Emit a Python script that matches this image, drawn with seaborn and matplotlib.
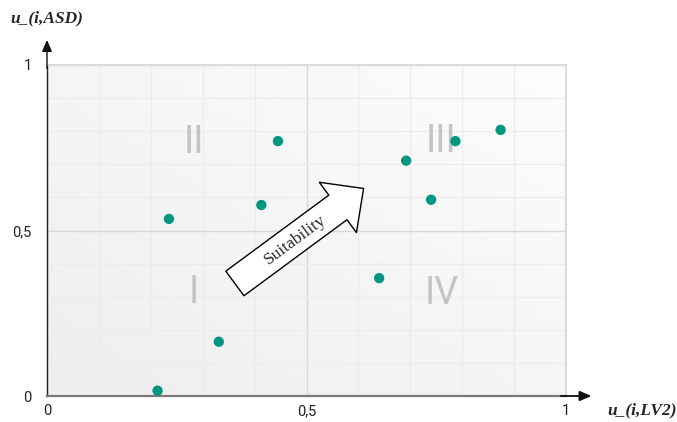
import numpy as np
import matplotlib
matplotlib.use('Agg')
import matplotlib.pyplot as plt
from matplotlib.colors import LinearSegmentedColormap
import seaborn as sns

# membership values
u_lv2 = [0.445, 0.413, 0.235, 0.331, 0.213, 0.692, 0.787, 0.874, 0.740, 0.640]
u_asd = [0.770, 0.577, 0.535, 0.164, 0.016, 0.711, 0.770, 0.804, 0.593, 0.356]

quadrants = ['II', 'III', 'I', 'IV']
quad_x = [0.283, 0.760, 0.283, 0.760]
quad_y = [0.767, 0.770, 0.314, 0.310]

x_ticks = [0, 0.5, 1]
x_ticklabels = ['0', '0,5', '1']
y_ticks = [0, 0.5, 1]
y_ticklabels = ['0', '0,5', '1']

sns.set_style('white')
plt.rcParams['font.family'] = ['Roboto', 'DejaVu Sans']

fig = plt.figure(figsize=(6.77, 4.22), dpi=100)
ax = fig.add_axes([47 / 677, 26 / 422, 519 / 677, 331 / 422])
ax.set_xlim(0, 1)
ax.set_ylim(0, 1)

# soft diagonal background gradient
gx, gy = np.meshgrid(np.linspace(0, 1, 200), np.linspace(0, 1, 200))
grad = (gx + gy) / 2
cmap = LinearSegmentedColormap.from_list('bg', ['#eeeeee', '#fdfdfd'])
ax.imshow(grad, extent=[0, 1, 0, 1], origin='lower', cmap=cmap,
          aspect='auto', zorder=0)

ax.set_xticks(x_ticks)
ax.set_xticklabels(x_ticklabels)
ax.set_yticks(y_ticks)
ax.set_yticklabels(y_ticklabels)
ax.set_xticks(np.arange(0, 1.01, 0.1), minor=True)
ax.set_yticks(np.arange(0, 1.01, 0.1), minor=True)
ax.grid(which='minor', color='#ececec', linewidth=0.9, zorder=1)
ax.grid(which='major', color='#d8d8d8', linewidth=1.0, zorder=1)
ax.set_axisbelow(True)
ax.tick_params(which='major', length=4, width=1, color='#bdbdbd',
               labelsize=10.5, labelcolor='#222222')
ax.tick_params(axis='y', pad=7)
ax.tick_params(axis='x', pad=2)
ax.tick_params(which='minor', length=0)

for side in ['top', 'right']:
    ax.spines[side].set_color('#dcdcdc')
    ax.spines[side].set_linewidth(1.5)
ax.spines['left'].set_color('#222222')
ax.spines['left'].set_linewidth(1.0)
ax.spines['bottom'].set_color('#7a7a7a')
ax.spines['bottom'].set_linewidth(1.6)

# axis arrows
ax.annotate('', xy=(0, 1.076), xytext=(0, 0.99), xycoords='axes fraction',
            arrowprops=dict(arrowstyle='-|>,head_length=0.7,head_width=0.3',
                            color='#111111', lw=1.0, shrinkA=0, shrinkB=0))
ax.annotate('', xy=(1.049, 0), xytext=(0.99, 0), xycoords='axes fraction',
            arrowprops=dict(arrowstyle='-|>,head_length=0.7,head_width=0.3',
                            color='#111111', lw=1.3, shrinkA=0, shrinkB=0))

ax.text(0.0, 1.142, 'u_(i,ASD)', transform=ax.transAxes, ha='center',
        va='center', fontsize=12.5, fontweight='bold', fontstyle='italic',
        family='Liberation Serif')
ax.text(1.146, -0.043, 'u_(i,LV2)', transform=ax.transAxes, ha='center',
        va='center', fontsize=12.5, fontweight='bold', fontstyle='italic',
        family='Liberation Serif')

for lab, qx, qy in zip(quadrants, quad_x, quad_y):
    ax.text(qx, qy, lab, ha='center', va='center', fontsize=27,
            color='#c4c4c4', zorder=2)

sns.scatterplot(x=u_lv2, y=u_asd, ax=ax, color='#00967f', s=55,
                edgecolor='none', zorder=4)

# "Suitability" block arrow
ax.annotate('', xy=(0.610, 0.627), xytext=(0.362, 0.340),
            arrowprops=dict(arrowstyle='simple,head_length=23,head_width=45,tail_width=22',
                            mutation_scale=1, fc='white', ec='black', lw=1.0,
                            shrinkA=0, shrinkB=0), zorder=5)
ax.text(0.478, 0.471, 'Suitability', ha='center', va='center', rotation=36.6,
        rotation_mode='anchor', fontsize=12.5, family='Liberation Serif', zorder=6)

fig.savefig('out.png', dpi=100)
